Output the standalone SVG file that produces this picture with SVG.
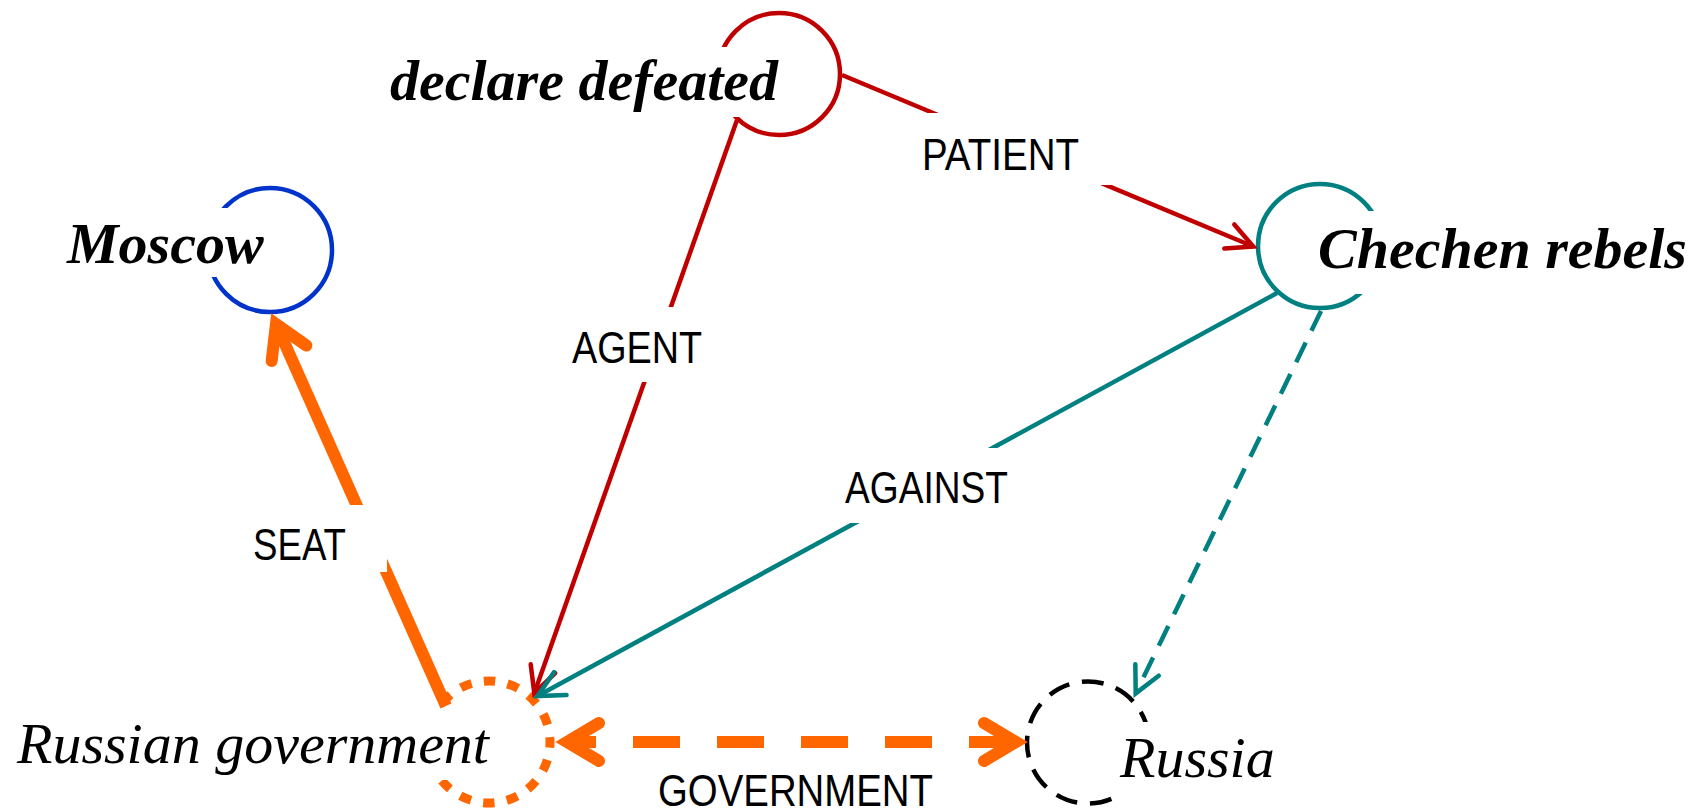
<svg xmlns="http://www.w3.org/2000/svg" width="1702" height="811" viewBox="0 0 1702 811">
<style>
.bg{fill:#ffffff;stroke:none}
.nb{font-family:"Liberation Serif","Times New Roman",serif;font-size:58px;font-style:italic;font-weight:bold;fill:#000}
.ni{font-family:"Liberation Serif","Times New Roman",serif;font-size:58px;font-style:italic;fill:#000}
.lbl{font-family:"Liberation Sans Narrow","Liberation Sans",Arial,sans-serif;font-size:45px;fill:#000}
.ring{fill:none}
.thin{fill:none;stroke-width:4.5}
.thick{fill:none;stroke:#FF6600;stroke-width:12}
</style>
<defs>
<marker id="ah-red" viewBox="-32 -18 40 36" markerWidth="40" markerHeight="36" refX="0" refY="0" orient="auto" markerUnits="userSpaceOnUse">
<path d="M-26,-13 L0,0 L-26,13" fill="none" stroke="#C00000" stroke-width="4.5" stroke-linecap="round"/>
</marker>
<marker id="ah-teal" viewBox="-32 -18 40 36" markerWidth="40" markerHeight="36" refX="0" refY="0" orient="auto" markerUnits="userSpaceOnUse">
<path d="M-26,-13 L0,0 L-26,13" fill="none" stroke="#008080" stroke-width="4.5" stroke-linecap="round"/>
</marker>
<marker id="ah-orange" viewBox="-44 -28 60 56" markerWidth="60" markerHeight="56" refX="0" refY="0" orient="auto-start-reverse" markerUnits="userSpaceOnUse">
<path d="M-32,-19 L0,0 L-32,19" fill="none" stroke="#FF6600" stroke-width="12" stroke-linecap="round" stroke-linejoin="miter"/>
</marker>
</defs>
<rect width="1702" height="811" fill="#ffffff"/>

<g id="node-declare-defeated">
<circle class="ring" cx="779" cy="74" r="61" stroke="#C00000" stroke-width="4.5"/>
<rect class="bg" x="380" y="47" width="365" height="70"/>
<text class="nb" x="390" y="100">declare defeated</text>
</g>

<g id="node-moscow">
<circle class="ring" cx="270" cy="250" r="62" stroke="#0033CC" stroke-width="4.5"/>
<rect class="bg" x="55" y="208" width="212" height="69"/>
<text class="nb" x="67" y="263">Moscow</text>
</g>

<g id="node-chechen-rebels">
<circle class="ring" cx="1320" cy="246" r="62" stroke="#008080" stroke-width="4.5"/>
<rect class="bg" x="1300" y="211" width="395" height="83"/>
<text class="nb" x="1318" y="268">Chechen rebels</text>
</g>

<g id="node-russian-government">
<circle class="ring" cx="489" cy="742" r="61" stroke="#FF6600" stroke-width="9" stroke-dasharray="11.5 12.46" stroke-dashoffset="5.75"/>
<rect class="bg" x="10" y="706" width="490" height="74"/>
<text class="ni" x="17" y="762.5">Russian government</text>
</g>

<g id="node-russia">
<circle class="ring" cx="1088" cy="742.5" r="61" stroke="#000000" stroke-width="4.5" stroke-dasharray="22 12.85" stroke-dashoffset="-2"/>
<rect class="bg" x="1110" y="722" width="170" height="73"/>
<text class="ni" x="1120" y="777">Russia</text>
</g>

<g id="connectors">
<line class="thin" x1="842" y1="75" x2="1253.3" y2="246.5" stroke="#C00000" marker-end="url(#ah-red)"/>
<line class="thin" x1="737" y1="120" x2="534.3" y2="693.2" stroke="#C00000" marker-end="url(#ah-red)"/>
<line class="thin" x1="1277" y1="293" x2="537.5" y2="696" stroke="#008080" marker-end="url(#ah-teal)"/>
<line class="thin" x1="1321" y1="311" x2="1135.7" y2="693.4" stroke="#008080" stroke-width="4" stroke-dasharray="22 13" marker-end="url(#ah-teal)"/>
<line class="thick" x1="446" y1="706" x2="276" y2="324" marker-end="url(#ah-orange)"/>
<line class="thick" x1="567" y1="742" x2="1016" y2="742" stroke-dasharray="47 37" stroke-dashoffset="18" marker-start="url(#ah-orange)" marker-end="url(#ah-orange)"/>

<g id="label-patient"><rect class="bg" x="885" y="113" width="235" height="72"/><text class="lbl" x="922" y="170" textLength="157" lengthAdjust="spacingAndGlyphs">PATIENT</text></g>
<g id="label-agent"><rect class="bg" x="540" y="307" width="195" height="75"/><text class="lbl" x="572" y="363" textLength="130" lengthAdjust="spacingAndGlyphs">AGENT</text></g>
<g id="label-against"><rect class="bg" x="810" y="448" width="235" height="75"/><text class="lbl" x="845" y="503" textLength="163" lengthAdjust="spacingAndGlyphs">AGAINST</text></g>
<g id="label-seat"><rect class="bg" x="215" y="505" width="172" height="67"/><text class="lbl" x="253" y="560" textLength="93" lengthAdjust="spacingAndGlyphs">SEAT</text></g>
<g id="label-government"><rect class="bg" x="625" y="753" width="340" height="58"/><text class="lbl" x="658" y="806" textLength="275" lengthAdjust="spacingAndGlyphs">GOVERNMENT</text></g>
</g>
</svg>
